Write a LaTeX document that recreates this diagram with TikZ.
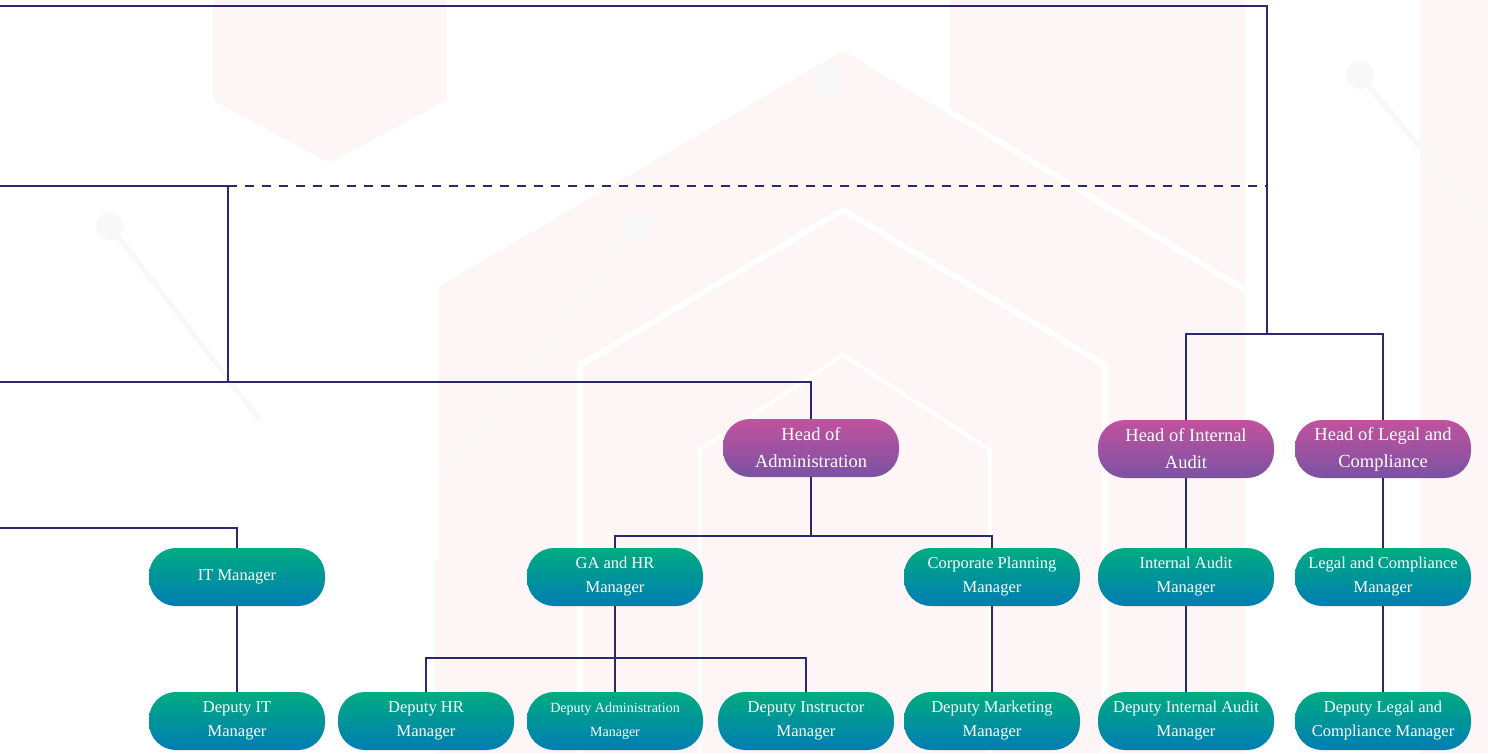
\documentclass[tikz,border=0pt]{standalone}
\usepackage{fontspec}
\setmainfont{Liberation Serif}
\usetikzlibrary{positioning, calc}
\definecolor{linknavy}{RGB}{44,42,110}
\definecolor{headtop}{RGB}{194,82,158}
\definecolor{headbot}{RGB}{122,82,162}
\definecolor{mgrtop}{RGB}{0,172,128}
\definecolor{mgrbot}{RGB}{0,124,180}
\definecolor{hexpink}{RGB}{254,246,246}
\definecolor{decogrey}{RGB}{248,248,248}

\begin{document}
\begin{tikzpicture}[
  x=1pt, y=-1pt,
  pill/.style={rectangle, rounded corners=27pt, minimum width=176pt,
               minimum height=58pt, inner sep=2pt, text=white, align=center},
  head/.style={pill, top color=headtop, bottom color=headbot,
               font=\fontsize{18.5}{27}\selectfont},
  mgr/.style={pill, top color=mgrtop, bottom color=mgrbot,
              font=\fontsize{16.5}{24}\selectfont},
  link/.style={draw=linknavy, line width=1.3pt},
  hexbg/.style={fill=hexpink, draw=none},
  deco/.style={draw=decogrey, line width=5pt},
]
  \useasboundingbox (0,0) rectangle (1488,753);

  % faint background
  \fill[white] (0,0) rectangle (1488,753);
  \path[hexbg] (213,0) -- (213,100) -- (330,163) -- (446,100) -- (446,0) -- cycle;
  \path[hexbg] (950,0) -- (950,230) -- (1245,290) -- (1245,0) -- cycle;
  \path[hexbg] (843,47) -- (1245,290) -- (1245,753) -- (435,753) -- (435,285) -- cycle;
  \path[hexbg] (1420,0) rectangle (1488,753);
  \draw[white, line width=6pt] (435,560) -- (435,285) -- (843,47) -- (1245,290);
  \draw[white, line width=6pt] (580,753) -- (580,365) -- (843,210) -- (1105,365) -- (1105,753);
  \draw[white, line width=4pt] (700,753) -- (700,450) -- (843,355) -- (990,450) -- (990,753);
  \draw[deco] (830,80) -- (830,200);
  \draw[deco] (638,226) -- (440,480);
  \draw[deco] (1360,75) -- (1488,230);
  \draw[deco] (110,226) -- (260,420);
  \fill[decogrey] (830,80) circle (15) (638,226) circle (15)
                  (1360,75) circle (14) (110,226) circle (14);

  % heads
  \node[head] (hadm) at (811,448) {Head of\\Administration};
  \node[head] (haud) at (1186,449) {Head of Internal\\Audit};
  \node[head] (hleg) at (1383,449) {Head of Legal and\\Compliance};

  % managers
  \node[mgr] (itm)  at (237,577) {IT Manager};
  \node[mgr] (gahr) at (615,577) {GA and HR\\Manager};
  \node[mgr] (corp) at (992,577) {Corporate Planning\\Manager};
  \node[mgr] (audm) at (1186,577) {Internal Audit\\Manager};
  \node[mgr] (legm) at (1383,577) {Legal and Compliance\\Manager};

  % deputies
  \node[mgr] (dit)  at (237,721) {Deputy IT\\Manager};
  \node[mgr] (dhr)  at (426,721) {Deputy HR\\Manager};
  \node[mgr, font=\fontsize{14}{24}\selectfont] (dadm) at (615,721)
    {Deputy Administration\\Manager};
  \node[mgr] (dins) at (806,721) {Deputy Instructor\\Manager};
  \node[mgr] (dmkt) at (992,721) {Deputy Marketing\\Manager};
  \node[mgr] (daud) at (1186,721) {Deputy Internal Audit\\Manager};
  \node[mgr] (dleg) at (1383,721) {Deputy Legal and\\Compliance Manager};

  % entry points from the left and branch points
  \coordinate (topin) at (0,6);
  \coordinate (midin) at (0,186);
  \coordinate (lowin) at (0,382);
  \coordinate (itin) at (0,528);
  \coordinate (turn) at (228,186);
  \coordinate (rbus) at (1267,334);
  \coordinate (admbus) at (811,536);
  \coordinate (gabus) at (615,658);

  % connectors
  \draw[link] (topin) -| (rbus);
  \draw[link] (haud.north) |- (rbus) -| (hleg.north);
  \draw[link, dash pattern=on 9pt off 8pt] (turn) -- (turn -| rbus);
  \draw[link] (midin) -- (turn) |- (lowin);
  \draw[link] (lowin) -| (hadm.north);
  \draw[link] (hadm.south) -- (admbus);
  \draw[link] (gahr.north) |- (admbus) -| (corp.north);
  \draw[link] (itin) -| (itm.north);
  \draw[link] (itm.south) -- (dit.north);
  \draw[link] (gahr.south) -- (dadm.north);
  \draw[link] (dhr.north) |- (gabus) -| (dins.north);
  \draw[link] (corp.south) -- (dmkt.north);
  \draw[link] (haud.south) -- (audm.north);
  \draw[link] (audm.south) -- (daud.north);
  \draw[link] (hleg.south) -- (legm.north);
  \draw[link] (legm.south) -- (dleg.north);
\end{tikzpicture}
\end{document}
